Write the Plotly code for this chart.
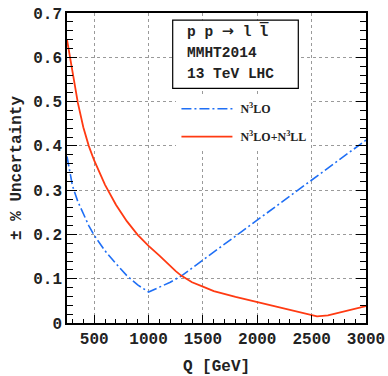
import plotly.graph_objects as go

# ---- data ----
q_n3lo = [250, 300, 350, 400, 450, 500, 600, 700, 800, 900, 1000, 1100, 1200, 1300, 1500, 2000, 2500, 3000]
u_n3lo = [0.376, 0.310, 0.274, 0.245, 0.220, 0.198, 0.163, 0.134, 0.107, 0.086, 0.070, 0.081, 0.092, 0.106, 0.142, 0.233, 0.323, 0.413]

q_n3ll = [250, 300, 350, 400, 450, 500, 550, 600, 700, 800, 900, 1000, 1100, 1200, 1250, 1300, 1350, 1400, 1500, 1600, 1800, 2000, 2200, 2400, 2500, 2550, 2650, 2800, 3000]
u_n3ll = [0.640, 0.566, 0.497, 0.442, 0.400, 0.367, 0.338, 0.312, 0.267, 0.230, 0.199, 0.174, 0.152, 0.128, 0.117, 0.107, 0.099, 0.092, 0.082, 0.072, 0.059, 0.047, 0.036, 0.024, 0.017, 0.015, 0.017, 0.026, 0.038]

x_ticks = [500, 1000, 1500, 2000, 2500, 3000]
y_ticks = [0, 0.1, 0.2, 0.3, 0.4, 0.5, 0.6, 0.7]

label_n3lo = "\u00a0N<sup>3</sup>LO"
label_n3ll = "\u00a0N<sup>3</sup>LO+N<sup>3</sup>LL"
box_lines = [
    "p p <span style=\"font-family:DejaVu Sans\">\u2192</span> l "
    "<span style=\"font-family:DejaVu Sans Mono\">l\u0305</span>",
    "MMHT2014",
    "13 TeV LHC",
]

BLUE = "#1f6ff5"
RED = "#ff3a12"
MONO = "Liberation Mono"

fig = go.Figure()
fig.add_trace(go.Scatter(x=q_n3lo, y=u_n3lo, mode="lines", name=label_n3lo,
                         legendgroup="a",
                         line=dict(color=BLUE, width=1.6, dash="10px,3px,2px,3px")))
fig.add_trace(go.Scatter(x=q_n3ll, y=u_n3ll, mode="lines", name=label_n3ll,
                         legendgroup="b",
                         line=dict(color=RED, width=1.8)))

axis_common = dict(
    showline=True, linecolor="black", linewidth=1.5, automargin=False,
    ticks="inside", tickcolor="black", tickwidth=1.2,
    showgrid=True, gridcolor="#9a9a9a", griddash="dot", gridwidth=1,
    zeroline=False,
    tickfont=dict(family=MONO, size=16, color="#222", weight="bold"),
    title_font=dict(family=MONO, size=16, color="#222", weight="bold"),
)

fig.update_xaxes(
    **axis_common,
    range=[250, 3000], tickvals=x_ticks, ticklen=8, mirror=True,
    minor=dict(dtick=100, tick0=0, ticklen=4, ticks="inside", tickcolor="black", showgrid=False),
    title_text="Q [GeV]", title_standoff=24,
)
fig.update_yaxes(
    **axis_common,
    range=[0, 0.7], tickvals=y_ticks, ticklen=10, mirror="allticks",
    minor=dict(dtick=0.02, tick0=0, ticklen=6, ticks="inside", tickcolor="black", showgrid=False),
    title_text="\u00b1 % Uncertainty", title_standoff=8,
)

# text box
fig.add_shape(type="rect", xref="paper", yref="paper",
              x0=0.3535, x1=0.7736, y0=0.757, y1=0.977,
              line=dict(color="black", width=1.2), fillcolor="white", layer="above")
for txt, yp in zip(box_lines, [0.944, 0.872, 0.803]):
    fig.add_annotation(text=txt, xref="paper", yref="paper", x=0.3946, y=yp,
                       xanchor="left", yanchor="middle", showarrow=False,
                       font=dict(family=MONO, size=14.5, color="#222", weight="bold"))

fig.update_layout(
    width=388, height=376,
    margin=dict(l=67, r=22, t=13, b=53),
    plot_bgcolor="white", paper_bgcolor="white",
    showlegend=True,
    legend=dict(x=0.366, y=0.738, xanchor="left", yanchor="top",
                bgcolor="white", borderwidth=0, itemwidth=51,
                tracegroupgap=9,
                font=dict(family="Liberation Serif", size=12, color="#222", weight="bold")),
)

fig.write_html("out.html", config={"displayModeBar": False},
               post_script="document.body.style.margin='0';document.body.style.padding='0';")
